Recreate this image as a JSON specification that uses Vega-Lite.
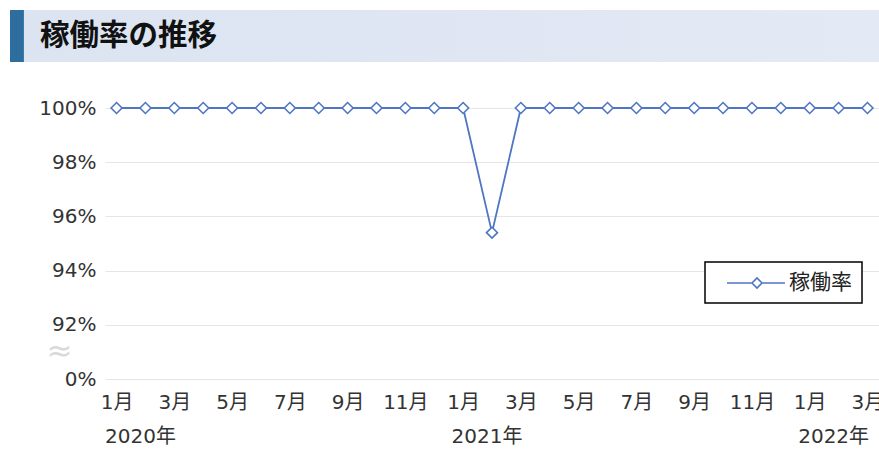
{
  "$schema": "https://vega.github.io/schema/vega-lite/v6.json",
  "padding": {"left": 10, "top": 10, "right": 0, "bottom": 0},
  "background": "white",
  "config": {
    "view": {"stroke": null},
    "font": "DejaVu Sans, Noto Sans CJK JP",
    "concat": {"spacing": 36}
  },
  "vconcat": [
    {
      "width": 774,
      "height": 52,
      "data": {"values": [{"title": "稼働率の推移"}]},
      "layer": [
        {
          "mark": {
            "type": "rect",
            "fill": {
              "gradient": "linear", "x1": 0, "y1": 0, "x2": 1, "y2": 0,
              "stops": [
                {"offset": 0, "color": "#DCE4F1"},
                {"offset": 1, "color": "#E3E9F5"}
              ]
            }
          },
          "encoding": {
            "x": {"datum": 0, "type": "quantitative", "scale": {"domain": [0, 100], "range": [-95, 774]}, "axis": null},
            "x2": {"datum": 100},
            "y": {"datum": 0, "type": "quantitative", "scale": {"domain": [0, 1]}, "axis": null},
            "y2": {"datum": 1}
          }
        },
        {
          "mark": {"type": "rect", "fill": "#2E6E9E"},
          "encoding": {
            "x": {"datum": 0, "type": "quantitative"},
            "x2": {"datum": 1.6},
            "y": {"datum": 0, "type": "quantitative"},
            "y2": {"datum": 1}
          }
        },
        {
          "mark": {"type": "text", "align": "left", "baseline": "middle", "font": "Noto Sans CJK JP", "fontSize": 29.5, "fontWeight": "bold", "color": "#111111"},
          "encoding": {
            "text": {"field": "title"},
            "x": {"datum": 3.45, "type": "quantitative"},
            "y": {"datum": 0.5, "type": "quantitative"}
          }
        }
      ]
    },
    {
      "width": 774,
      "height": 271,
      "data": {
        "values": [
          {"ym": "2020-01", "rate": 100, "series": "稼働率"},
          {"ym": "2020-02", "rate": 100, "series": "稼働率"},
          {"ym": "2020-03", "rate": 100, "series": "稼働率"},
          {"ym": "2020-04", "rate": 100, "series": "稼働率"},
          {"ym": "2020-05", "rate": 100, "series": "稼働率"},
          {"ym": "2020-06", "rate": 100, "series": "稼働率"},
          {"ym": "2020-07", "rate": 100, "series": "稼働率"},
          {"ym": "2020-08", "rate": 100, "series": "稼働率"},
          {"ym": "2020-09", "rate": 100, "series": "稼働率"},
          {"ym": "2020-10", "rate": 100, "series": "稼働率"},
          {"ym": "2020-11", "rate": 100, "series": "稼働率"},
          {"ym": "2020-12", "rate": 100, "series": "稼働率"},
          {"ym": "2021-01", "rate": 100, "series": "稼働率"},
          {"ym": "2021-02", "rate": 95.4, "series": "稼働率"},
          {"ym": "2021-03", "rate": 100, "series": "稼働率"},
          {"ym": "2021-04", "rate": 100, "series": "稼働率"},
          {"ym": "2021-05", "rate": 100, "series": "稼働率"},
          {"ym": "2021-06", "rate": 100, "series": "稼働率"},
          {"ym": "2021-07", "rate": 100, "series": "稼働率"},
          {"ym": "2021-08", "rate": 100, "series": "稼働率"},
          {"ym": "2021-09", "rate": 100, "series": "稼働率"},
          {"ym": "2021-10", "rate": 100, "series": "稼働率"},
          {"ym": "2021-11", "rate": 100, "series": "稼働率"},
          {"ym": "2021-12", "rate": 100, "series": "稼働率"},
          {"ym": "2022-01", "rate": 100, "series": "稼働率"},
          {"ym": "2022-02", "rate": 100, "series": "稼働率"},
          {"ym": "2022-03", "rate": 100, "series": "稼働率"}
        ]
      },
      "layer": [
        {
          "mark": {"type": "line", "strokeWidth": 1.8},
          "encoding": {
            "x": {
              "field": "ym", "type": "ordinal", "sort": null,
              "scale": {"type": "point", "padding": 0.4},
              "axis": {
                "title": null, "labelAngle": 0, "ticks": false, "domain": false, "grid": false,
                "labelPadding": 13, "labelFontSize": 20, "labelColor": "#333333", "labelOverlap": false,
                "labelExpr": "toNumber(substring(datum.value, 5, 7)) % 2 == 1 ? toNumber(substring(datum.value, 5, 7)) + '月' : ''"
              }
            },
            "y": {
              "field": "rate", "type": "quantitative",
              "scale": {"domain": [90, 100], "nice": false, "zero": false},
              "axis": {
                "title": null, "ticks": false, "domain": false, "minExtent": 95,
                "values": [90, 91, 92, 94, 96, 98, 100],
                "labelOverlap": false,
                "labelExpr": "datum.value == 90 ? '0%' : datum.value == 91 ? '≈' : datum.value + '%'",
                "labelPadding": {"condition": {"test": "datum.value == 91", "value": 33}, "value": 9},
                "labelFontSize": {"condition": {"test": "datum.value == 91", "value": 31}, "value": 20},
                "labelColor": {"condition": {"test": "datum.value == 91", "value": "#D9D9D9"}, "value": "#333333"},
                "gridColor": "#E6E6E6",
                "gridOpacity": {"condition": {"test": "datum.value == 91", "value": 0}, "value": 1}
              }
            },
            "color": {
              "field": "series", "type": "nominal",
              "scale": {"range": ["#4F76C4"]},
              "legend": {
                "title": null, "orient": "none", "legendX": 600, "legendY": 252,
                "symbolType": "M0.1,0L2.6,0M3.6,0L5.9,0M2.6,0L3.1,-0.5L3.6,0L3.1,0.5Z",
                "symbolSize": 400, "symbolStrokeWidth": 1.6,
                "symbolFillColor": "white", "symbolStrokeColor": "#4F76C4",
                "labelFontSize": 21, "labelFont": "Noto Sans CJK JP", "labelOffset": 52, "labelColor": "#222222",
                "padding": 10, "strokeColor": "#000000", "fillColor": "white",
                "encode": {"legend": {"update": {"strokeWidth": {"value": 1.5}}}}
              }
            }
          }
        },
        {
          "mark": {"type": "point", "shape": "diamond", "filled": true, "fill": "white", "stroke": "#4F76C4", "strokeWidth": 1.6, "size": 120, "opacity": 1},
          "encoding": {
            "x": {
              "field": "ym", "type": "ordinal", "sort": null,
              "axis": {
                "orient": "bottom", "title": null, "labelAngle": 0, "ticks": false, "domain": false, "grid": false,
                "labelPadding": 47, "labelFontSize": 20, "labelColor": "#333333", "labelOverlap": false,
                "labelAlign": "left", "labelOffset": -12,
                "labelExpr": "substring(datum.value, 5, 7) == '01' ? substring(datum.value, 0, 4) + '年' : ''"
              }
            },
            "y": {"field": "rate", "type": "quantitative"}
          }
        }
      ],
      "resolve": {"axis": {"x": "independent"}}
    }
  ]
}
